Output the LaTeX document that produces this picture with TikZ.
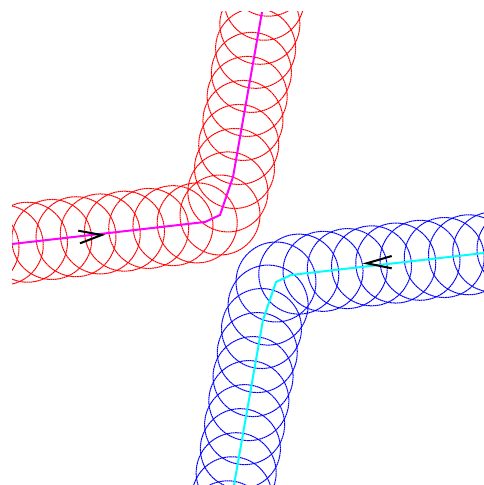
\documentclass[tikz,border=0pt]{standalone}
\usetikzlibrary{decorations.markings}
\definecolor{pmag}{RGB}{255,0,255}
\definecolor{pcyan}{RGB}{0,255,255}
\definecolor{pred}{RGB}{255,0,0}
\definecolor{pblue}{RGB}{0,0,255}
\tikzset{
  ring/.style={line width=0.75pt, dash pattern=on 1.3pt off 0.35pt},
  spine/.style={line width=1.5pt},
  chev/.style={line width=1.5pt, black},
  ringsat/.style n args={2}{decoration={markings,
      mark=between positions #2 and 1 step 18.3pt with {\draw[ring,#1] (0,0) circle[radius=30pt];}},
      decorate},
}
\begin{document}
\begin{tikzpicture}[x=0.75pt,y=-0.75pt]
\useasboundingbox (0,0) rectangle (484,485);
\begin{scope}
  \clip (12,12) rectangle (484,485);
  % red rings along the magenta spine, measured from its corner
  \coordinate (C1) at (220,215);
  \path[ringsat={pred}{0pt}] (C1) -- (205,222) -- (12,244) -- (-58,252);
  \path[ringsat={pred}{18.3pt}] (C1) -- (233,177) -- (262,12) -- (274,-57);
  % blue rings: the same, turned half round
  \begin{scope}[rotate around={180:(248,248.5)}]
    \coordinate (C2) at (220,215);
    \path[ringsat={pblue}{0pt}] (C2) -- (205,222) -- (12,244) -- (-58,252);
    \path[ringsat={pblue}{18.3pt}] (C2) -- (233,177) -- (262,12) -- (274,-57);
  \end{scope}
\end{scope}
% spines
\coordinate (m1) at (12,244);
\coordinate (m2) at (205,222);
\coordinate (m3) at (220,215);
\coordinate (m4) at (233,177);
\coordinate (m5) at (262,12);
\draw[spine,pmag] (m1) -- (m2) -- (m3) -- (m4) -- (m5);
\coordinate (c1) at (484,253);
\coordinate (c2) at (291,275);
\coordinate (c3) at (276,282);
\coordinate (c4) at (263,320);
\coordinate (c5) at (234,485);
\draw[spine,pcyan] (c1) -- (c2) -- (c3) -- (c4) -- (c5);
% direction marks
\coordinate (a1) at (78.3,230.7);
\coordinate (a2) at (101.7,235);
\coordinate (a3) at (80,243.3);
\draw[chev] (a1) -- (a2) -- (a3);
\coordinate (b1) at (391.7,256);
\coordinate (b2) at (366.7,263.3);
\coordinate (b3) at (391.7,268.3);
\draw[chev] (b1) -- (b2) -- (b3);
\end{tikzpicture}
\end{document}
